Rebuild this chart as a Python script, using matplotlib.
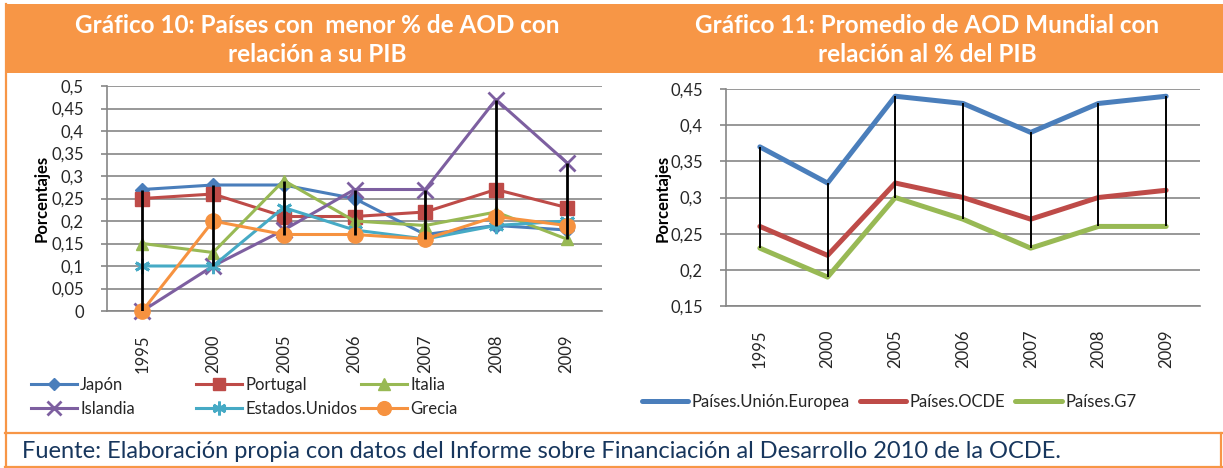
import matplotlib
matplotlib.use("Agg")
import matplotlib.pyplot as plt
from matplotlib.patches import Rectangle
from matplotlib.ticker import FixedLocator, FuncFormatter

plt.rcParams['font.family'] = ['Lato', 'DejaVu Sans']

# ---------------- data ----------------
years = ["1995", "2000", "2005", "2006", "2007", "2008", "2009"]

japon = [0.27, 0.28, 0.28, 0.25, 0.17, 0.19, 0.18]
portugal = [0.25, 0.26, 0.21, 0.21, 0.22, 0.27, 0.23]
italia = [0.15, 0.13, 0.29, 0.20, 0.19, 0.22, 0.16]
islandia = [0.00, 0.10, 0.18, 0.27, 0.27, 0.47, 0.33]
estados_unidos = [0.10, 0.10, 0.23, 0.18, 0.16, 0.19, 0.20]
grecia = [0.00, 0.20, 0.17, 0.17, 0.16, 0.21, 0.19]
left_names = ["Japón", "Portugal", "Italia", "Islandia", "Estados.Unidos", "Grecia"]

ue = [0.37, 0.32, 0.44, 0.43, 0.39, 0.43, 0.44]
ocde = [0.26, 0.22, 0.32, 0.30, 0.27, 0.30, 0.31]
g7 = [0.23, 0.19, 0.30, 0.27, 0.23, 0.26, 0.26]
right_names = ["Países.Unión.Europea", "Países.OCDE", "Países.G7"]

left_yticks = [0, 0.05, 0.1, 0.15, 0.2, 0.25, 0.3, 0.35, 0.4, 0.45, 0.5]
right_yticks = [0.15, 0.2, 0.25, 0.3, 0.35, 0.4, 0.45]

title_left = "Gráfico 10: Países con  menor % de AOD con\nrelación a su PIB"
title_right = "Gráfico 11: Promedio de AOD Mundial con\nrelación al % del PIB"
footer = "Fuente: Elaboración propia con datos del Informe sobre Financiación al Desarrollo 2010 de la OCDE."

# ---------------- figure ----------------
W, H = 1223, 468
fig = plt.figure(figsize=(W / 100, H / 100), dpi=100)

ORANGE = "#F79646"
GRID = "#868686"
TXT = "#262626"
FS = 12

bg = fig.add_axes([0, 0, 1, 1], zorder=-5)
bg.set_xlim(0, W)
bg.set_ylim(H, 0)
bg.axis("off")
bg.add_patch(Rectangle((5, 4), W - 5, 69, facecolor=ORANGE, edgecolor="none"))
bg.plot([6, 6], [4, 467], color=ORANGE, lw=1.6)
bg.plot([5, W], [433, 433], color=ORANGE, lw=1.6)
bg.plot([5, W], [466.5, 466.5], color=ORANGE, lw=1.6)
bg.plot([1221, 1221], [433, 467], color=ORANGE, lw=1.6)
bg.text(317, 40, title_left, ha="center", va="center", color="white",
        fontsize=17.5, fontweight="bold", linespacing=1.3)
bg.text(927, 40, title_right, ha="center", va="center", color="white",
        fontsize=17.5, fontweight="bold", linespacing=1.3)
bg.text(22, 451, footer, ha="left", va="center", color="#17365D", fontsize=17)
bg.text(42, 198, "Porcentajes", rotation=90, ha="center", va="center",
        fontsize=12, fontweight="bold", color="black")
bg.text(663, 198, "Porcentajes", rotation=90, ha="center", va="center",
        fontsize=12, fontweight="bold", color="black")


def fmt(v, pos=None):
    return f"{v:g}".replace(".", ",")


def style_axes(ax, yticks, ymin, ymax):
    ax.set_xlim(-0.5, len(years) - 0.5)
    ax.set_ylim(ymin, ymax)
    ax.yaxis.set_major_locator(FixedLocator(yticks))
    ax.yaxis.set_major_formatter(FuncFormatter(fmt))
    ax.set_xticks(range(len(years)))
    ax.set_xticklabels(years, rotation=90, ha="center", va="top")
    ax.grid(axis="y", color=GRID, lw=1.2)
    ax.set_axisbelow(True)
    for s in ["top", "right"]:
        ax.spines[s].set_visible(False)
    for s in ["left", "bottom"]:
        ax.spines[s].set_color(GRID)
        ax.spines[s].set_linewidth(1.2)
    ax.tick_params(axis="y", length=4.3, width=1.2, color=GRID, pad=12.5,
                   labelsize=FS, labelcolor=TXT)
    ax.tick_params(axis="x", length=0, pad=17, labelsize=FS, labelcolor=TXT)
    ax.patch.set_alpha(0)


# ---------------- left chart ----------------
axL = fig.add_axes([107 / W, 1 - 311 / H, 495 / W, 225 / H])
style_axes(axL, left_yticks, 0, 0.5)
left_series = [japon, portugal, italia, islandia, estados_unidos, grecia]
left_colors = ["#4A7EBB", "#BE4B48", "#98B954", "#7D5FA0", "#46AAC5", "#F69240"]
left_markers = ["D", "s", "^", "x", (6, 2, 0), "o"]
left_msize = [7, 10, 9, 11, 11, 11]
x = list(range(len(years)))
handles = []
for vals, name, c, m, ms in zip(left_series, left_names, left_colors, left_markers, left_msize):
    mew = 2 if m in ("x",) or isinstance(m, tuple) else 1
    (h,) = axL.plot(x, vals, color=c, lw=2.2, marker=m, markersize=ms,
                    markerfacecolor=c, markeredgecolor=c, markeredgewidth=mew,
                    label=name, clip_on=False, zorder=3)
    handles.append(h)
lo = [min(v) for v in zip(*left_series)]
hi = [max(v) for v in zip(*left_series)]
axL.vlines(x, lo, hi, color="black", lw=2, zorder=5)

# legend (3 columns x 2 rows)
col_x = [31, 196, 361]
for i, cx in enumerate(col_x):
    hs = [handles[i], handles[i + 3]]
    fig.legend(handles=hs, labels=[h.get_label() for h in hs],
               loc="center left", bbox_to_anchor=(cx / W, 1 - 397 / H),
               frameon=False, fontsize=FS, handlelength=2.75, handletextpad=0.2,
               borderpad=0, borderaxespad=0, labelspacing=0.45,
               markerscale=0.9, labelcolor=TXT)

# ---------------- right chart ----------------
axR = fig.add_axes([726 / W, 1 - 306 / H, 474 / W, 217 / H])
style_axes(axR, right_yticks, 0.15, 0.45)
right_series = [ue, ocde, g7]
right_colors = ["#4A7EBB", "#BE4B48", "#98B954"]
rhandles = []
for vals, name, c in zip(right_series, right_names, right_colors):
    (h,) = axR.plot(x, vals, color=c, lw=3.6, label=name, zorder=3,
                    solid_capstyle="round", solid_joinstyle="round")
    rhandles.append(h)
rlo = [min(v) for v in zip(*right_series)]
rhi = [max(v) for v in zip(*right_series)]
axR.vlines(x, rlo, rhi, color="black", lw=1.4, zorder=5)

fig.legend(handles=rhandles, labels=right_names, loc="center",
           bbox_to_anchor=(889 / W, 1 - 402 / H), ncol=3, frameon=False,
           fontsize=FS, handlelength=2.8, handletextpad=0.2, columnspacing=0.6,
           borderpad=0, borderaxespad=0, labelcolor=TXT)

fig.savefig("out.png", dpi=100)
